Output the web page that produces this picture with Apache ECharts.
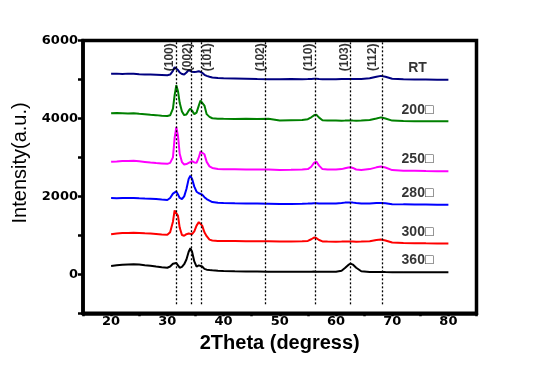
<!DOCTYPE html>
<html>
<head>
<meta charset="utf-8">
<script src="https://cdn.jsdelivr.net/npm/echarts@6/dist/echarts.min.js"></script>
<style>html,body{margin:0;padding:0;background:#fff;}#c{width:555px;height:366px;}</style>
</head>
<body>
<div id="c"></div>
<script>
// ---- DATA ----
const X = [20,21,22,23,24,25,26,27,28,29,30,30.5,31,31.3,31.6,31.9,32.2,32.6,33,33.4,33.8,34.1,34.4,34.8,35.2,35.6,35.9,36.2,36.6,37,37.5,38,39,40,42,44,46,48,50,52,54,55,55.6,56.1,56.5,57,57.6,58.5,60,61,61.6,62.2,62.6,63,63.6,64.5,66,67.2,68,68.8,70,72,74,76,78,80];
const RT  = [5144,5150,5140,5150,5144,5135,5130,5125,5120,5115,5110,5125,5220,5316,5300,5240,5180,5140,5128,5180,5240,5225,5195,5190,5200,5213,5210,5170,5120,5092,5070,5050,5035,5030,5025,5020,5010,5007,5005,5010,5005,5010,5015,5020,5018,5012,5008,5005,5005,5010,5012,5015,5015,5012,5010,5015,5030,5070,5092,5070,5020,5005,5000,4998,4995,4990];
const T200 = [4131,4140,4135,4130,4131,4120,4110,4097,4085,4070,4061,4080,4250,4600,4853,4700,4400,4180,4085,4100,4200,4252,4200,4110,4150,4330,4460,4492,4330,4110,4040,4005,3994,3990,3985,3990,3985,3994,3950,3955,3960,3980,4030,4080,4097,4020,3955,3945,3945,3943,3945,3950,3950,3945,3943,3945,3960,4000,4028,4000,3945,3935,3930,3930,3928,3925];
const T250 = [2886,2895,2905,2910,2912,2900,2885,2868,2855,2845,2835,2860,3000,3500,3778,3550,3092,2880,2817,2830,2860,2895,2902,2870,2860,3000,3150,3195,3080,2886,2770,2730,2705,2696,2695,2690,2688,2690,2680,2682,2690,2700,2760,2860,2894,2790,2700,2690,2690,2700,2720,2740,2747,2730,2690,2680,2700,2745,2765,2740,2675,2660,2655,2650,2648,2644];
const T280 = [1958,1955,1960,1958,1958,1950,1945,1941,1930,1918,1907,1960,2070,2120,2129,2050,1960,1933,2000,2190,2450,2533,2450,2250,2120,2080,2060,2044,1980,1930,1890,1855,1835,1830,1822,1820,1815,1810,1805,1804,1810,1815,1820,1825,1825,1820,1815,1815,1820,1830,1840,1845,1845,1840,1830,1820,1820,1828,1832,1825,1800,1795,1792,1790,1788,1786];
const T300 = [1031,1050,1060,1062,1064,1058,1052,1048,1035,1022,1013,1080,1350,1640,1675,1500,1200,1010,990,1030,1046,1040,1031,1100,1250,1340,1356,1250,1080,980,890,870,858,855,852,850,848,850,840,842,848,858,900,943,930,880,845,840,838,840,842,842,840,840,838,840,850,880,892,870,815,805,800,795,792,789];
const T360 = [214,230,245,255,258,250,235,222,200,180,170,200,270,299,290,230,170,190,260,380,580,670,580,330,200,230,258,200,140,120,110,103,90,85,78,72,70,68,67,67,65,67,68,70,68,66,66,66,67,90,160,240,273,250,170,80,62,60,62,58,55,54,53,53,52,52];
const sampleNames = ['RT','200□','250□','280□','300□','360□'];
const peakPos = [31.6,34.2,36.1,47.5,56.4,62.5,68.2];
const peakHkl = ['(100)','(002)','(101)','(102)','(110)','(103)','(112)'];
const xTickLabels = ['20','30','40','50','60','70','80'];
const yTickLabels = ['0','2000','4000','6000'];

// ---- LAYOUT / STYLE ----
const allSeries = [RT,T200,T250,T280,T300,T360];
const colors = ['#000080','#008000','#ff00ff','#0000ff','#ff0000','#000000'];
const hklOffset = [-1.25,-0.55,1.05,-0.9,-1.25,-0.9,-1.6];
const hklY = 5570;
const nameX = 74.5, nameDy = 300;
const lineBottom = -770, lineTop = 6000;

const series = allSeries.map((vals,i)=>({
  type:'line', name: sampleNames[i], showSymbol:false, symbol:'none',
  data: X.map((x,j)=>[x,vals[j]]),
  lineStyle:{color:colors[i], width:2}, itemStyle:{color:colors[i]},
  z: 3
}));

series.push({
  type:'line', data:[], symbol:'none',
  markLine:{
    silent:true, symbol:['none','none'],
    lineStyle:{color:'#000', type:[2,2], width:1.3},
    label:{show:false},
    data: peakPos.map(p=>[{coord:[p,lineBottom]},{coord:[p,lineTop]}])
  }
});

series.push({
  type:'scatter', symbolSize:0, z:5,
  data: peakPos.map((p,i)=>({value:[p+hklOffset[i],hklY], name:peakHkl[i]})),
  label:{show:true, position:'inside', rotate:90, formatter:p=>p.name,
    fontFamily:'Liberation Sans, Arial', fontWeight:'bold', fontSize:12, color:'#000'}
});

series.push({
  type:'scatter', symbolSize:0, z:5,
  data: allSeries.map((vals,i)=>({value:[nameX, vals[vals.length-1]+nameDy], name:sampleNames[i]})),
  label:{show:true, position:'inside', formatter:p=>p.name,
    fontFamily:'Liberation Sans, Arial', fontWeight:'bold', fontSize:14, color:'#000'}
});

const chart = echarts.init(document.getElementById('c'), null, {renderer:'canvas'});
chart.setOption({
  animation:false,
  backgroundColor:'#fff',
  grid:{left:83, right:78.5, top:40.5, bottom:52.7, show:true, borderColor:'#000', borderWidth:3.5, containLabel:false},
  xAxis:{
    type:'value', min:15, max:85, interval:5,
    name:'2Theta (degress)', nameLocation:'middle', nameGap:18,
    nameTextStyle:{fontFamily:'Liberation Sans, Arial', fontWeight:'bold', fontSize:20, color:'#000', verticalAlign:'top'},
    axisLine:{show:true, onZero:false, lineStyle:{color:'#000', width:3.5}},
    axisTick:{show:true, length:3, lineStyle:{color:'#000', width:2.5}},
    axisLabel:{margin:2, color:'#000', fontFamily:'DejaVu Sans', fontWeight:'bold', fontSize:13,
      formatter:v=>{const s=String(v); return xTickLabels.includes(s)?s:'';}},
    splitLine:{show:false}
  },
  yAxis:{
    type:'value', min:-1000, max:6000, interval:1000,
    name:'Intensity(a.u.)', nameLocation:'middle', nameGap:50, nameRotate:90,
    nameTextStyle:{fontFamily:'Liberation Sans, Arial', fontSize:20, color:'#000', padding:[0,0,0,28]},
    axisLine:{show:true, onZero:false, lineStyle:{color:'#000', width:3.5}},
    axisTick:{show:true, length:5, lineStyle:{color:'#000', width:2.5}},
    axisLabel:{margin:5, color:'#000', fontFamily:'DejaVu Sans', fontWeight:'bold', fontSize:13,
      formatter:v=>{const s=String(v); return yTickLabels.includes(s)?s:'';}},
    splitLine:{show:false}
  },
  series: series
});
</script>
</body>
</html>
